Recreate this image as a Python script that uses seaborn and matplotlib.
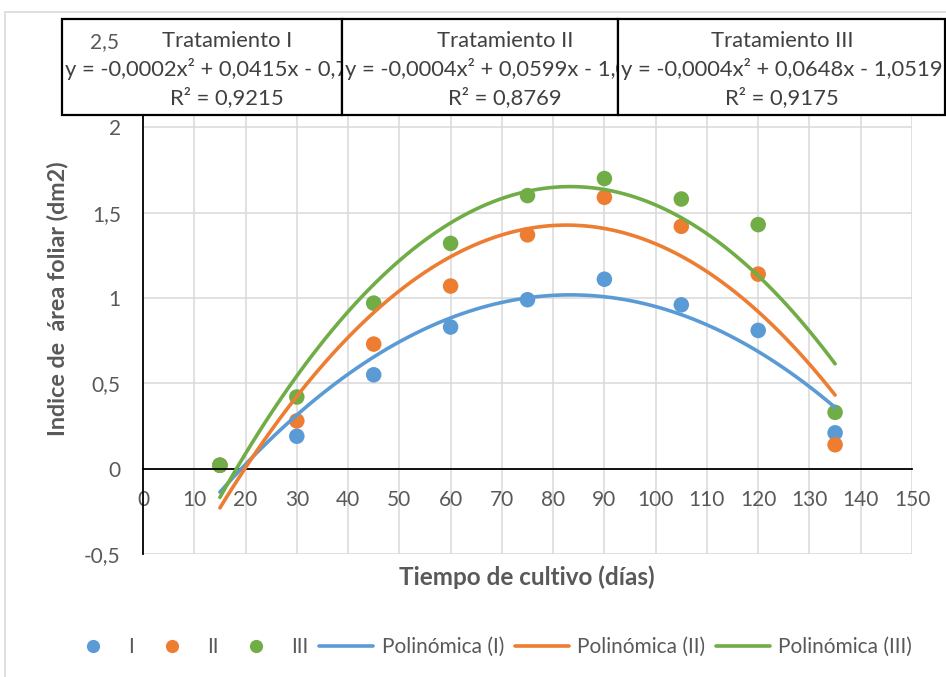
import numpy as np
import pandas as pd
import matplotlib
matplotlib.use("Agg")
import matplotlib.pyplot as plt
from matplotlib.patches import Rectangle
from matplotlib.lines import Line2D
import seaborn as sns

# ---------------- data ----------------
dias = [15, 30, 45, 60, 75, 90, 105, 120, 135]
serie_I = [0.02, 0.19, 0.55, 0.83, 0.99, 1.11, 0.96, 0.81, 0.21]
serie_II = [0.02, 0.28, 0.73, 1.07, 1.37, 1.59, 1.42, 1.14, 0.14]
serie_III = [0.02, 0.42, 0.97, 1.32, 1.60, 1.70, 1.58, 1.43, 0.33]
series_names = ["I", "II", "III"]
trend_names = ["Polinómica (I)", "Polinómica (II)", "Polinómica (III)"]
box_titles = ["Tratamiento I", "Tratamiento II", "Tratamiento III"]
box_equations = ["y = -0,0002x² + 0,0415x - 0,7",
                 "y = -0,0004x² + 0,0599x - 1,0",
                 "y = -0,0004x² + 0,0648x - 1,0519"]
box_r2 = ["R² = 0,9215", "R² = 0,8769", "R² = 0,9175"]
x_ticks = list(range(0, 151, 10))
y_ticks = [-0.5, 0, 0.5, 1, 1.5, 2, 2.5]
y_tick_labels = ["-0,5", "0", "0,5", "1", "1,5", "2", "2,5"]

colors = ["#5B9BD5", "#ED7D31", "#70AD47"]

df = pd.DataFrame({
    "dias": dias * 3,
    "valor": serie_I + serie_II + serie_III,
    "serie": sum([[n] * len(dias) for n in series_names], []),
})

# ---------------- figure ----------------
sns.set_theme(style="white")
plt.rcParams["font.family"] = ["Lato", "DejaVu Sans"]

W, H = 946, 677
fig = plt.figure(figsize=(W / 100, H / 100), dpi=100)
fig.patch.set_facecolor("white")


def fx(px):
    return px / W


def fy(py):
    return 1 - py / H


ax = fig.add_axes([fx(143), fy(554), fx(912) - fx(143), fy(42) - fy(554)])
ax.set_xlim(0, 150)
ax.set_ylim(-0.5, 2.5)
ax.set_axisbelow(True)
ax.grid(True, color="#D9D9D9", lw=1.1)

# scatter points
sns.scatterplot(data=df, x="dias", y="valor", hue="serie", palette=colors,
                hue_order=series_names, s=125, edgecolor="none", legend=False,
                ax=ax, zorder=2)

# polynomial trendlines (order 2)
for name, c in zip(series_names, colors):
    sub = df[df["serie"] == name]
    sns.regplot(data=sub, x="dias", y="valor", order=2, ci=None, scatter=False,
                truncate=True, color=c, line_kws={"lw": 2.6, "zorder": 3}, ax=ax)

ax.set_xticks(x_ticks)
ax.set_xticklabels([str(t) for t in x_ticks])
ax.set_yticks(y_ticks)
ax.set_yticklabels(y_tick_labels[:-1] + [""])
ax.tick_params(axis="both", length=0, labelsize=15, labelcolor="#595959")
ax.tick_params(axis="x", pad=15)
ax.tick_params(axis="y", pad=16)

for s in ["top", "right"]:
    ax.spines[s].set_visible(False)
ax.spines["left"].set_color("black")
ax.spines["left"].set_linewidth(1.3)
ax.spines["bottom"].set_position(("data", 0))
ax.spines["bottom"].set_color("black")
ax.spines["bottom"].set_linewidth(1.3)

ax.set_xlabel("")
ax.set_ylabel("")
fig.text(fx(527), fy(577), "Tiempo de cultivo (días)", ha="center", va="center",
         fontsize=17.5, fontweight="bold", color="#595959")
fig.text(fx(58), fy(299), "Indice de  área foliar (dm2)", ha="center", va="center",
         rotation=90, fontsize=16.8, fontweight="bold", color="#595959")

# outer chart border
fig.add_artist(Rectangle((fx(5), fy(690)), fx(960) - fx(5), fy(12) - fy(690),
                         transform=fig.transFigure, fc="none", ec="#D9D9D9",
                         lw=1.2, zorder=-1))

# trendline label boxes
boxes_x = [(62, 342), (342, 618), (618, 945)]
text_cx = [227, 505, 782]
y0, y1 = 19, 115
z = 5
for (bx0, bx1), cx, t, e, r in zip(boxes_x, text_cx, box_titles, box_equations, box_r2):
    rect = Rectangle((fx(bx0), fy(y1)), fx(bx1) - fx(bx0), fy(y0) - fy(y1),
                     transform=fig.transFigure, fc="white", ec="black", lw=1.6,
                     zorder=z)
    fig.add_artist(rect)
    kw = dict(fontsize=15.8, color="#404040", va="center", zorder=z + 0.5)
    t1 = fig.text(fx(cx), fy(41), t, ha="center", **kw)
    t2 = fig.text(fx(bx0 + 3), fy(69), e, ha="left", **kw)
    t3 = fig.text(fx(cx), fy(98), r, ha="center", **kw)
    for tt in (t1, t2, t3):
        tt.set_clip_path(rect)
    z += 1

# the 2,5 tick label drawn on top of the first box
fig.text(fx(119), fy(42), y_tick_labels[-1], ha="right", va="center",
         fontsize=15, color="#595959", zorder=20)

# legend
handles = [Line2D([], [], marker="o", ls="none", color=c, markersize=9.5,
                  markeredgewidth=0) for c in colors]
handles += [Line2D([], [], color=c, lw=2.6) for c in colors]
labels = series_names + trend_names
fig.legend(handles, labels, loc="center", bbox_to_anchor=(fx(489), fy(647)),
           ncol=6, frameon=False, fontsize=15, labelcolor="#595959",
           handlelength=2.6, handletextpad=0.4, columnspacing=0.5,
           borderaxespad=0)

fig.savefig("out.png", dpi=100, facecolor="white")
